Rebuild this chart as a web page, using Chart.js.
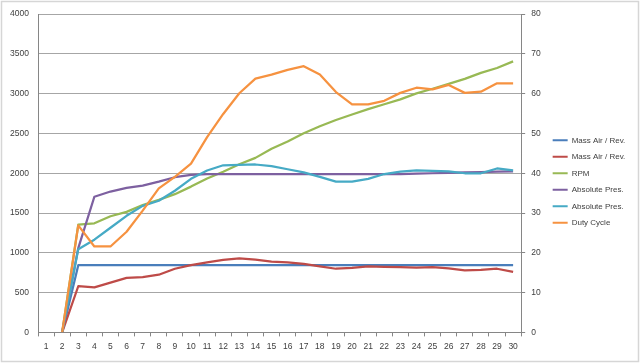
<!DOCTYPE html>
<html>
<head>
<meta charset="utf-8">
<script src="https://cdn.jsdelivr.net/npm/chart.js@4.4.1/dist/chart.umd.min.js"></script>
<style>
    html, body { margin: 0; padding: 0; background: #fff; }
    #chartBox { width: 640px; height: 364px; }
</style>
</head>
<body>
<div id="chartBox"><canvas id="engineChart" width="640" height="364"></canvas></div>
<script>
// Категории (номер замера)
const categories = ['1','2','3','4','5','6','7','8','9','10','11','12','13','14','15',
    '16','17','18','19','20','21','22','23','24','25','26','27','28','29','30'];

// Левая ось (0..4000)
const rpm = [null, 0, 1355, 1371, 1460, 1515, 1600, 1665, 1737, 1832, 1935, 2019, 2114, 2193, 2308,
    2400, 2503, 2590, 2669, 2739, 2805, 2867, 2929, 3004, 3062, 3124, 3186, 3261, 3323, 3406];

// Правая ось (0..80)
const massAirRev1 = [null, 0, 16.9, 16.9, 16.9, 16.9, 16.9, 16.9, 16.9, 16.9, 16.9, 16.9, 16.9, 16.9, 16.9,
    16.9, 16.9, 16.9, 16.9, 16.9, 16.9, 16.9, 16.9, 16.9, 16.9, 16.9, 16.9, 16.9, 16.9, 16.9];
const massAirRev2 = [null, 0, 11.6, 11.3, 12.5, 13.7, 13.9, 14.5, 16.0, 16.9, 17.6, 18.2, 18.6, 18.3, 17.8,
    17.6, 17.2, 16.6, 16.0, 16.2, 16.6, 16.5, 16.4, 16.3, 16.4, 16.1, 15.6, 15.7, 16.0, 15.2];
const absPres1 = [null, 0, 21.2, 34.1, 35.4, 36.3, 36.9, 37.9, 39.0, 39.6, 39.8, 39.8, 39.8, 39.8, 39.8,
    39.8, 39.8, 39.8, 39.8, 39.8, 39.8, 39.8, 39.8, 39.9, 40.0, 40.1, 40.2, 40.3, 40.4, 40.5];
const absPres2 = [null, 0, 20.9, 23.3, 26.3, 29.3, 31.8, 33.1, 35.6, 38.6, 40.7, 42.0, 42.1, 42.2, 41.8,
    41.0, 40.2, 39.1, 37.9, 37.9, 38.6, 39.8, 40.4, 40.7, 40.6, 40.5, 40.0, 40.0, 41.2, 40.7];
const dutyCycle = [null, 0, 26.9, 21.6, 21.6, 25.3, 30.6, 36.2, 39.1, 42.4, 49.1, 54.9, 60.1, 63.8, 64.8,
    66.0, 66.9, 64.8, 60.4, 57.3, 57.3, 58.2, 60.2, 61.5, 61.1, 62.2, 60.2, 60.5, 62.6, 62.6];

// Подписи осей
const leftTicks = { min: 0, max: 4000, step: 500 };
const rightTicks = { min: 0, max: 80, step: 10 };

const FONT = "'Liberation Sans', Arial, sans-serif";
const TEXT_COLOR = '#404040';
const AXIS_COLOR = '#868686';

let engineChart = null;

// Рамка вокруг всей диаграммы
const chartFrame = {
    id: 'chartFrame',
    beforeDraw(chart) {
        const ctx = chart.ctx;
        ctx.save();
        ctx.fillStyle = '#ffffff';
        ctx.fillRect(0, 0, chart.width, chart.height);
        ctx.strokeStyle = '#d6d6d6';
        ctx.lineWidth = 1.5;
        ctx.strokeRect(1.5, 1.5, chart.width - 3, chart.height - 4);
        ctx.restore();
    }
};

function makeSeries(label, data, color, axis, order) {
    return {
        label: label,
        data: data,
        yAxisID: axis,
        borderColor: color,
        backgroundColor: color,
        borderWidth: 2.25,
        borderJoinStyle: 'round',
        pointRadius: 0,
        tension: 0,
        order: order
    };
}

function initEngineChart() {
    const ctx = document.getElementById('engineChart').getContext('2d');

    if (engineChart) {
        engineChart.destroy();
    }

    engineChart = new Chart(ctx, {
        type: 'line',
        data: {
            labels: categories,
            datasets: [
                makeSeries('Mass Air / Rev.', massAirRev1, '#4A7EBB', 'y1', 6),
                makeSeries('Mass Air / Rev.', massAirRev2, '#BE4B48', 'y1', 5),
                makeSeries('RPM', rpm, '#98B954', 'y', 4),
                makeSeries('Absolute Pres.', absPres1, '#7D60A0', 'y1', 3),
                makeSeries('Absolute Pres.', absPres2, '#46AAC5', 'y1', 2),
                makeSeries('Duty Cycle', dutyCycle, '#F69240', 'y1', 1)
            ]
        },
        options: {
            responsive: false,
            animation: false,
            layout: {
                padding: { top: 10.7, right: 4.7, bottom: 11.6, left: 0 }
            },
            scales: {
                x: {
                    offset: true,
                    grid: {
                        offset: true,
                        drawOnChartArea: false,
                        tickLength: 4,
                        color: AXIS_COLOR
                    },
                    border: { color: AXIS_COLOR },
                    ticks: {
                        padding: 5,
                        maxRotation: 0,
                        autoSkip: false,
                        color: TEXT_COLOR,
                        font: { family: FONT, size: 8.5 }
                    },
                    afterFit: scale => { scale.height = 20; }
                },
                y: {
                    position: 'left',
                    min: leftTicks.min,
                    max: leftTicks.max,
                    ticks: {
                        stepSize: leftTicks.step,
                        padding: 9,
                        color: TEXT_COLOR,
                        font: { family: FONT, size: 8.5 },
                        callback: value => String(value)
                    },
                    grid: {
                        color: '#a6a6a6',
                        drawTicks: false
                    },
                    border: { color: AXIS_COLOR },
                    afterFit: scale => { scale.width = 38; }
                },
                y1: {
                    position: 'right',
                    min: rightTicks.min,
                    max: rightTicks.max,
                    ticks: {
                        stepSize: rightTicks.step,
                        padding: 6,
                        color: TEXT_COLOR,
                        font: { family: FONT, size: 8.5 },
                        callback: value => String(value)
                    },
                    grid: {
                        drawOnChartArea: false,
                        tickLength: 4,
                        color: AXIS_COLOR
                    },
                    border: { color: AXIS_COLOR },
                    afterFit: scale => { scale.width = 23; }
                }
            },
            plugins: {
                legend: {
                    position: 'right',
                    labels: {
                        boxWidth: 15,
                        boxHeight: 2,
                        padding: 8.5,
                        color: TEXT_COLOR,
                        font: { family: FONT, size: 8 },
                        sort: (a, b) => a.datasetIndex - b.datasetIndex,
                        generateLabels: chart => {
                            const items = Chart.defaults.plugins.legend.labels.generateLabels(chart);
                            return items.map(item => Object.assign(item, {
                                lineWidth: 0,
                                fillStyle: item.strokeStyle
                            }));
                        }
                    }
                },
                tooltip: { enabled: false }
            }
        },
        plugins: [chartFrame]
    });
}

document.addEventListener('DOMContentLoaded', () => {
    initEngineChart();
});
</script>
</body>
</html>
